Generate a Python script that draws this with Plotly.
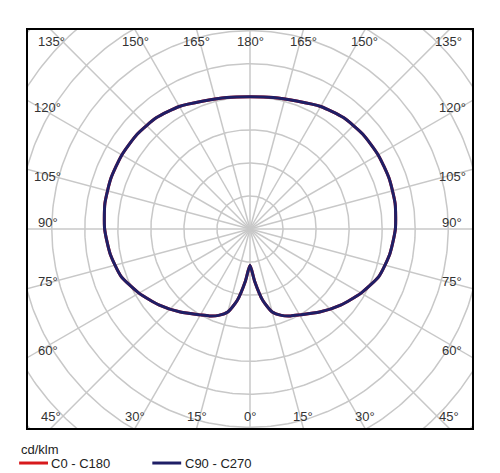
import numpy as np
import plotly.graph_objects as go

# luminous intensity distribution, gamma from nadir (0) to zenith (180)
gamma = [0, 5, 10, 15, 20, 25, 30, 40, 50, 60, 70, 80, 90, 100, 110, 120, 130, 140, 150, 160, 170, 180]
c90_c270 = [55, 79, 109, 130, 139, 145, 150, 164, 179, 194, 208, 215, 220, 223, 224, 224, 223, 220, 214, 206, 202, 200]
c0_c180 = c90_c270  # identical, hidden under the blue curve
ring_values = list(range(50, 551, 50))
spoke_angles = list(range(0, 360, 15))
label_angles = [0, 15, 30, 45, 60, 75, 90, 105, 120, 135, 150, 165, 180]
series_names = ["C0 - C180", "C90 - C270"]
series_colors = ["#d7191c", "#1f1f66"]

XR = 336.0   # half width of the box in cd/klm
YR = 301.0   # half height


def to_xy(g_list, r_list, side):
    g = np.radians(np.array(g_list, dtype=float))
    r = np.array(r_list, dtype=float)
    return side * r * np.sin(g), -r * np.cos(g)


fig = go.Figure()

# grid rings and spokes
t = np.linspace(0, 2 * np.pi, 361)
for rv in ring_values:
    fig.add_trace(go.Scatter(x=rv * np.cos(t), y=rv * np.sin(t), mode="lines",
                             line=dict(color="#c8c8c8", width=1.5), hoverinfo="skip", showlegend=False))
for a in spoke_angles:
    ar = np.radians(a)
    fig.add_trace(go.Scatter(x=[0, 700 * np.sin(ar)], y=[0, -700 * np.cos(ar)], mode="lines",
                             line=dict(color="#c8c8c8", width=1.5), hoverinfo="skip", showlegend=False))


def curve(vals):
    xl, yl = to_xy(gamma[::-1], vals[::-1], -1)
    xr, yr = to_xy(gamma[1:], vals[1:], 1)
    return np.concatenate([xl, xr]), np.concatenate([yl, yr])


for vals, name, col in zip([c0_c180, c90_c270], series_names, series_colors):
    cx, cy = curve(vals)
    fig.add_trace(go.Scatter(x=cx, y=cy, mode="lines", name=name, showlegend=False,
                             line=dict(color=col, width=3, shape="spline", smoothing=0.6)))

# angle labels along the box edges
for side in (-1, 1):
    for a in label_angles:
        if side == 1 and a in (0, 180):
            continue
        ar = np.radians(a)
        sx, sy = np.sin(ar), -np.cos(ar)
        k = min(XR / abs(sx) if abs(sx) > 1e-9 else 1e9, YR / abs(sy) if abs(sy) > 1e-9 else 1e9)
        px, py = side * sx * k, sy * k
        if abs(abs(py) - YR) < 1e-6 and abs(abs(px) - XR) > 1e-6:
            py -= np.sign(py) * 18
        elif abs(abs(px) - XR) < 1e-6 and abs(abs(py) - YR) > 1e-6:
            px -= np.sign(px) * 30
            py -= 10 if py > 0 else -10
        else:
            px -= np.sign(px) * 30
            py -= np.sign(py) * 18
        fig.add_annotation(x=px, y=py, text=f"{a}°", showarrow=False,
                           font=dict(size=13, color="#333333"))

# hand-made legend below the box
fig.add_annotation(xref="paper", yref="paper", x=-0.02, y=-0.03, xanchor="left", yanchor="top",
                   text="cd/klm", showarrow=False, font=dict(size=13, color="#222222"))
lx = -0.02
for name, col in zip(series_names, series_colors):
    fig.add_shape(type="line", xref="paper", yref="paper", x0=lx, x1=lx + 0.065,
                  y0=-0.088, y1=-0.088, line=dict(color=col, width=3))
    fig.add_annotation(xref="paper", yref="paper", x=lx + 0.068, y=-0.088, xanchor="left",
                       yanchor="middle", text=name, showarrow=False,
                       font=dict(size=13, color="#222222"))
    lx += 0.3

fig.update_layout(
    width=500, height=473,
    margin=dict(l=20, r=36, t=22, b=53),
    showlegend=False,
    paper_bgcolor="white", plot_bgcolor="white",
    font=dict(family="Liberation Sans, Arial, sans-serif", size=12, color="#222222"),
    xaxis=dict(range=[-XR, XR], showgrid=False, zeroline=False, showticklabels=False, ticks="",
               showline=True, linecolor="black", linewidth=1.5, mirror=True, fixedrange=True),
    yaxis=dict(range=[-YR, YR], showgrid=False, zeroline=False, showticklabels=False, ticks="",
               showline=True, linecolor="black", linewidth=1.5, mirror=True, fixedrange=True),
)

fig.write_html("out.html")
